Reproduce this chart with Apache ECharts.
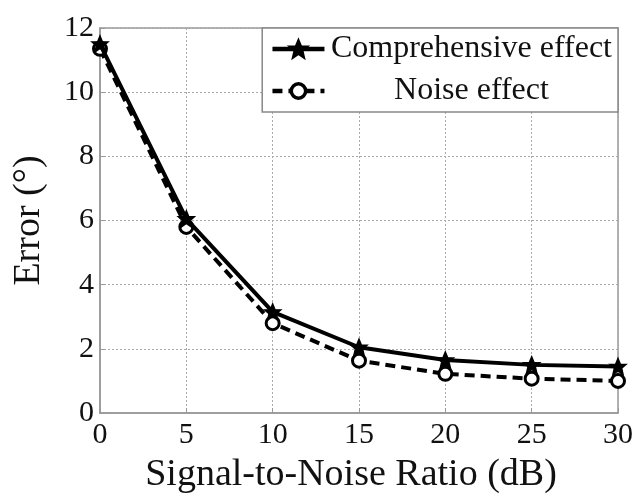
<!DOCTYPE html>
<html><head><meta charset="utf-8">
<script src="https://cdn.jsdelivr.net/npm/echarts@6/dist/echarts.min.js"></script>
<style>html,body{margin:0;padding:0;background:#fff}#c{width:636px;height:499px}</style>
</head><body><div id="c"></div>
<script>
const snr = [0, 5, 10, 15, 20, 25, 30];
const comprehensive = [11.5, 6.05, 3.15, 2.05, 1.65, 1.5, 1.45];
const noise = [11.35, 5.8, 2.8, 1.63, 1.22, 1.07, 1.0];
const seriesNames = ['Comprehensive effect', 'Noise effect'];

const font = '"Liberation Serif", "DejaVu Serif", serif';
const star = 'path://M0,-10 L2.8,-3.2 L9.5,-3 L4.3,1.6 L6,9 L0,4.8 L-6,9 L-4.3,1.6 L-9.5,-3 L-2.8,-3.2 Z';
const chart = echarts.init(document.getElementById('c'), null, {renderer: 'canvas'});
chart.setOption({
  animation: false,
  backgroundColor: '#fff',
  grid: {left: 100, right: 17, top: 28, bottom: 81, show: true, borderColor: '#999', borderWidth: 1.5},
  legend: {
    right: 18, top: 28, orient: 'vertical',
    backgroundColor: '#fff', borderColor: '#888', borderWidth: 1.5,
    padding: [5, 6, 5, 8], itemGap: 10, itemWidth: 52, itemHeight: 18,
    lineStyle: {width: 4.5},
    itemStyle: {borderWidth: 3.5},
    formatter: name => '{c|' + name + '}',
    textStyle: {
      fontFamily: font, fontSize: 32, color: '#111',
      rich: {c: {fontFamily: font, fontSize: 32, color: '#111', width: 284, align: 'center', height: 34}}
    },
    data: seriesNames
  },
  xAxis: {
    type: 'value', min: 0, max: 30, interval: 5,
    name: 'Signal-to-Noise Ratio (dB)', nameLocation: 'middle', nameGap: 43,
    nameTextStyle: {fontFamily: font, fontSize: 38, color: '#111', padding: [0, 16, 0, 0]},
    axisLine: {lineStyle: {color: '#999', width: 1.5}},
    axisTick: {inside: true, length: 5, lineStyle: {color: '#999'}},
    axisLabel: {fontFamily: font, fontSize: 30, color: '#111', margin: 7},
    splitLine: {show: true, lineStyle: {color: '#aaa', type: [2, 2], width: 1}}
  },
  yAxis: {
    type: 'value', min: 0, max: 12, interval: 2,
    name: 'Error (°)', nameLocation: 'middle', nameGap: 52,
    nameTextStyle: {fontFamily: font, fontSize: 38, color: '#111'},
    axisLine: {show: true, lineStyle: {color: '#999', width: 1.5}},
    axisTick: {show: true, inside: true, length: 5, lineStyle: {color: '#999'}},
    axisLabel: {fontFamily: font, fontSize: 30, color: '#111', margin: 6},
    splitLine: {show: true, lineStyle: {color: '#aaa', type: [2, 2], width: 1}}
  },
  series: [
    {
      name: seriesNames[0], type: 'line',
      data: snr.map((x, i) => [x, comprehensive[i]]),
      symbol: star, symbolSize: 16, z: 3,
      lineStyle: {color: '#000', width: 4},
      itemStyle: {color: '#000', borderColor: '#000', borderWidth: 1.5}
    },
    {
      name: seriesNames[1], type: 'line',
      data: snr.map((x, i) => [x, noise[i]]),
      symbol: 'circle', symbolSize: 13, z: 2,
      lineStyle: {color: '#000', width: 4, type: [10, 6]},
      itemStyle: {color: '#fff', borderColor: '#000', borderWidth: 3}
    }
  ]
});
</script></body></html>
